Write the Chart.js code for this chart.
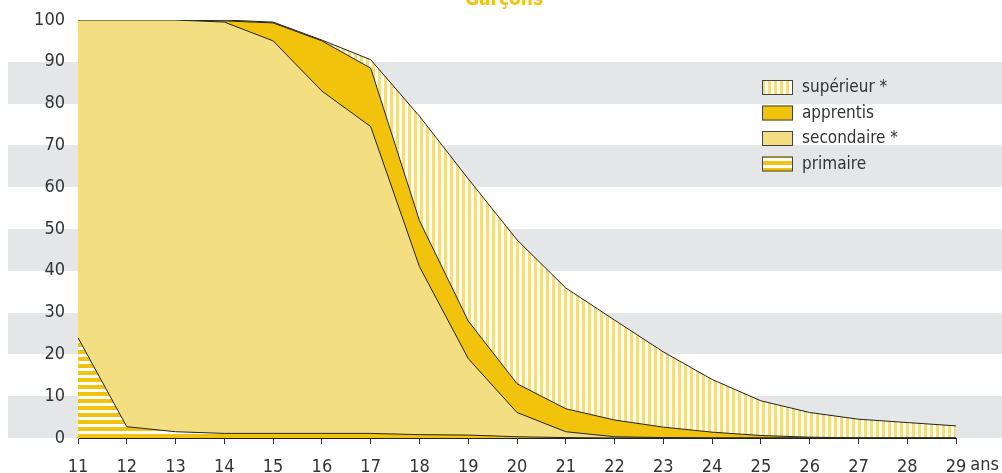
<!DOCTYPE html>
<html>
<head>
<meta charset="utf-8">
<script src="https://cdn.jsdelivr.net/npm/chart.js@4"></script>
<style>
  html, body { margin: 0; padding: 0; background: #fff; }
  #wrap { width: 1002px; height: 473px; position: relative; }
</style>
</head>
<body>
<div id="wrap"><canvas id="myChart" width="1002" height="473"></canvas></div>
<script>
// ages (x axis)
const ages = ['11','12','13','14','15','16','17','18','19','20','21','22','23','24','25','26','27','28','29'];

// parts in %, stacked from the bottom
const primaire   = [24, 2.7, 1.5, 1.1, 1.1, 1.1, 1.1, 0.8, 0.7, 0.3, 0.1, 0, 0, 0, 0, 0, 0, 0, 0];
const secondaire = [76, 97.3, 98.5, 98.4, 93.9, 81.9, 73.4, 40.2, 18.3, 5.8, 1.4, 0.3, 0.1, 0, 0, 0, 0, 0, 0];
const apprentis  = [0, 0, 0, 0.3, 4.3, 12, 14, 11, 9, 6.9, 5.5, 4, 2.5, 1.4, 0.6, 0.2, 0, 0, 0];
const superieur  = [0, 0, 0, 0.2, 0.2, 0.2, 2, 25, 34, 34.4, 28.9, 23.9, 18, 12.6, 8.3, 5.9, 4.5, 3.7, 2.9];

const yTicks = [0, 10, 20, 30, 40, 50, 60, 70, 80, 90, 100];

const FONT = '"Liberation Sans Narrow", "Arial Narrow", "DejaVu Sans Condensed", sans-serif';
const TXT = '#333333';
const GOLD = '#f1c30d';
const PALE = '#f4de82';

// stripe patterns
function stripes(vertical, period, band, color) {
  const c = document.createElement('canvas');
  c.width = vertical ? period : 1;
  c.height = vertical ? 1 : period;
  const g = c.getContext('2d');
  g.fillStyle = '#fff';
  g.fillRect(0, 0, c.width, c.height);
  g.fillStyle = color;
  if (vertical) g.fillRect(0, 0, band, 1);
  else g.fillRect(0, 0, 1, band);
  return g.createPattern(c, 'repeat');
}
const tmpCtx = document.getElementById('myChart').getContext('2d');
const vStripe = stripes(true, 6, 3, '#f5dc80');
const hStripe = stripes(false, 7, 4, '#f1c30d');

const bands = {
  id: 'bands',
  beforeDraw(chart) {
    const { ctx, scales: { y } } = chart;
    ctx.save();
    ctx.fillStyle = '#e5e6e8';
    [0, 20, 40, 60, 80].forEach(v => {
      const top = Math.round(y.getPixelForValue(v + 10));
      const bot = Math.round(y.getPixelForValue(v));
      ctx.fillRect(8, top, chart.width - 8, bot - top);
    });
    ctx.restore();
  }
};

const extras = {
  id: 'extras',
  afterDraw(chart) {
    const { ctx, scales: { x } } = chart;
    ctx.save();
    // title
    ctx.font = 'bold 19px ' + FONT;
    ctx.fillStyle = GOLD;
    ctx.textAlign = 'center';
    ctx.textBaseline = 'alphabetic';
    ctx.fillText('Garçons', 504, 5);

    // "ans" after the last tick label
    ctx.font = '18px ' + FONT;
    ctx.fillStyle = TXT;
    ctx.textAlign = 'left';
    ctx.textBaseline = 'middle';
    const last = x.getPixelForTick(ages.length - 1);
    const w = ctx.measureText(ages[ages.length - 1]).width;
    ctx.fillText('ans', last + w / 2 + 4, 465);

    // legend, top to bottom
    const items = [3, 2, 1, 0];
    items.forEach((di, i) => {
      const ds = chart.data.datasets[di];
      const top = 80 + i * 25.5;
      ctx.fillStyle = '#fff';
      ctx.fillRect(762, top, 31, 15);
      ctx.fillStyle = ds.backgroundColor;
      ctx.fillRect(762, top, 31, 15);
      ctx.strokeStyle = '#444';
      ctx.lineWidth = 1;
      ctx.strokeRect(762.5, top + 0.5, 30, 14);
      ctx.fillStyle = TXT;
      ctx.font = '17px ' + FONT;
      ctx.fillText(ds.label, 802, top + 8);
    });
    ctx.restore();
  }
};

function series(label, data, bg, fill) {
  return {
    label, data,
    backgroundColor: bg,
    borderColor: '#222',
    borderWidth: 1,
    pointRadius: 0,
    tension: 0,
    fill
  };
}

new Chart(tmpCtx, {
  type: 'line',
  data: {
    labels: ages,
    datasets: [
      series('primaire', primaire, hStripe, 'origin'),
      series('secondaire *', secondaire, PALE, '-1'),
      series('apprentis', apprentis, GOLD, '-1'),
      series('supérieur *', superieur, vStripe, '-1')
    ]
  },
  options: {
    responsive: false,
    animation: false,
    events: [],
    layout: { padding: { top: 20, right: 46, left: 0, bottom: 0 } },
    plugins: { legend: { display: false }, tooltip: { enabled: false } },
    scales: {
      x: {
        offset: false,
        grid: { drawOnChartArea: false, drawTicks: true, tickLength: 6, color: '#333' },
        border: { color: '#222', width: 1 },
        ticks: { color: TXT, font: { family: FONT, size: 18 }, padding: 13, maxRotation: 0, autoSkip: false },
        afterFit(s) { s.height = 35; }
      },
      y: {
        stacked: true,
        min: 0, max: 100,
        afterBuildTicks(s) { s.ticks = yTicks.map(v => ({ value: v })); },
        grid: { display: false },
        border: { color: '#999', width: 1 },
        ticks: { color: TXT, font: { family: FONT, size: 18 }, padding: 5 },
        afterFit(s) { s.width = 78; }
      }
    }
  },
  plugins: [bands, extras]
});
</script>
</body>
</html>
